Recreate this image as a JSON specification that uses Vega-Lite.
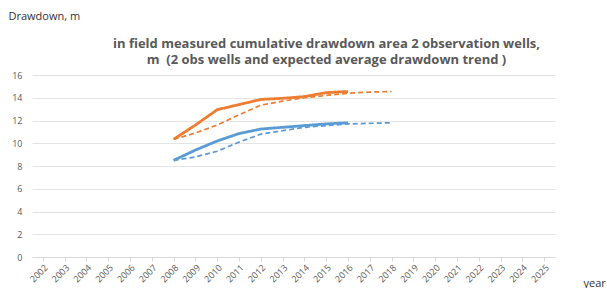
{
  "$schema": "https://vega.github.io/schema/vega-lite/v6.json",
  "width": 523,
  "height": 182,
  "autosize": {"type": "none"},
  "padding": {"left": 32, "top": 75, "right": 52, "bottom": 31},
  "background": "white",
  "title": {
    "text": ["in field measured cumulative drawdown area 2 observation wells,", "m \u00a0(2 obs wells and expected average drawdown trend )"],
    "anchor": "middle",
    "dx": 33,
    "offset": -57,
    "font": "Open Sans",
    "fontSize": 13,
    "fontWeight": "bold",
    "color": "#595959",
    "lineHeight": 16
  },
  "config": {
    "view": {"stroke": null},
    "font": "Open Sans"
  },
  "data": {
    "values": [
      {"year": "2008", "well": "well 1", "kind": "measured", "value": 10.35},
      {"year": "2009", "well": "well 1", "kind": "measured", "value": 11.6},
      {"year": "2010", "well": "well 1", "kind": "measured", "value": 12.95},
      {"year": "2011", "well": "well 1", "kind": "measured", "value": 13.4},
      {"year": "2012", "well": "well 1", "kind": "measured", "value": 13.85},
      {"year": "2013", "well": "well 1", "kind": "measured", "value": 13.95},
      {"year": "2014", "well": "well 1", "kind": "measured", "value": 14.1},
      {"year": "2015", "well": "well 1", "kind": "measured", "value": 14.45},
      {"year": "2016", "well": "well 1", "kind": "measured", "value": 14.55},
      {"year": "2008", "well": "well 1", "kind": "trend", "value": 10.35},
      {"year": "2009", "well": "well 1", "kind": "trend", "value": 10.9},
      {"year": "2010", "well": "well 1", "kind": "trend", "value": 11.6},
      {"year": "2011", "well": "well 1", "kind": "trend", "value": 12.5},
      {"year": "2012", "well": "well 1", "kind": "trend", "value": 13.35},
      {"year": "2013", "well": "well 1", "kind": "trend", "value": 13.7},
      {"year": "2014", "well": "well 1", "kind": "trend", "value": 14.0},
      {"year": "2015", "well": "well 1", "kind": "trend", "value": 14.2},
      {"year": "2016", "well": "well 1", "kind": "trend", "value": 14.4},
      {"year": "2017", "well": "well 1", "kind": "trend", "value": 14.5},
      {"year": "2018", "well": "well 1", "kind": "trend", "value": 14.55},
      {"year": "2008", "well": "well 2", "kind": "measured", "value": 8.5},
      {"year": "2009", "well": "well 2", "kind": "measured", "value": 9.4},
      {"year": "2010", "well": "well 2", "kind": "measured", "value": 10.2},
      {"year": "2011", "well": "well 2", "kind": "measured", "value": 10.85},
      {"year": "2012", "well": "well 2", "kind": "measured", "value": 11.25},
      {"year": "2013", "well": "well 2", "kind": "measured", "value": 11.4},
      {"year": "2014", "well": "well 2", "kind": "measured", "value": 11.55},
      {"year": "2015", "well": "well 2", "kind": "measured", "value": 11.7},
      {"year": "2016", "well": "well 2", "kind": "measured", "value": 11.8},
      {"year": "2008", "well": "well 2", "kind": "trend", "value": 8.5},
      {"year": "2009", "well": "well 2", "kind": "trend", "value": 8.8},
      {"year": "2010", "well": "well 2", "kind": "trend", "value": 9.3},
      {"year": "2011", "well": "well 2", "kind": "trend", "value": 10.1},
      {"year": "2012", "well": "well 2", "kind": "trend", "value": 10.8},
      {"year": "2013", "well": "well 2", "kind": "trend", "value": 11.1},
      {"year": "2014", "well": "well 2", "kind": "trend", "value": 11.4},
      {"year": "2015", "well": "well 2", "kind": "trend", "value": 11.55},
      {"year": "2016", "well": "well 2", "kind": "trend", "value": 11.7},
      {"year": "2017", "well": "well 2", "kind": "trend", "value": 11.75},
      {"year": "2018", "well": "well 2", "kind": "trend", "value": 11.8}
    ]
  },
  "mark": {"type": "line", "strokeCap": "butt", "strokeJoin": "round"},
  "encoding": {
    "x": {
      "field": "year",
      "type": "ordinal",
      "scale": {"domain": ["2002","2003","2004","2005","2006","2007","2008","2009","2010","2011","2012","2013","2014","2015","2016","2017","2018","2019","2020","2021","2022","2023","2024","2025"]},
      "axis": {
        "title": "year",
        "titleX": 551,
        "titleY": 26,
        "titleAlign": "left",
        "titleBaseline": "middle",
        "titleFontSize": 11,
        "titleFontWeight": "normal",
        "titleColor": "#333333",
        "labelAngle": -45,
        "labelFontSize": 9,
        "labelColor": "#595959",
        "labelPadding": 2,
        "domainColor": "#D9D9D9",
        "tickColor": "#D9D9D9",
        "tickSize": 4,
        "grid": false
      }
    },
    "y": {
      "field": "value",
      "type": "quantitative",
      "scale": {"domain": [0, 16]},
      "axis": {
        "title": "Drawdown, m",
        "titleAngle": 0,
        "titleX": -24,
        "titleY": -59,
        "titleAlign": "left",
        "titleBaseline": "middle",
        "titleFontSize": 11,
        "titleFontWeight": "normal",
        "titleColor": "#333333",
        "values": [0, 2, 4, 6, 8, 10, 12, 14, 16],
        "labelFontSize": 9,
        "labelColor": "#595959",
        "labelPadding": 10,
        "ticks": false,
        "domain": false,
        "gridColor": "#E4E4E4"
      }
    },
    "color": {
      "field": "well",
      "type": "nominal",
      "scale": {"domain": ["well 1", "well 2"], "range": ["#ED7D31", "#5B9BD5"]},
      "legend": null
    },
    "strokeDash": {
      "field": "kind",
      "type": "nominal",
      "scale": {"domain": ["measured", "trend"], "range": [[1, 0], [5, 3]]},
      "legend": null
    },
    "strokeWidth": {
      "field": "kind",
      "type": "nominal",
      "scale": {"domain": ["measured", "trend"], "range": [2.8, 1.7]},
      "legend": null
    }
  }
}
